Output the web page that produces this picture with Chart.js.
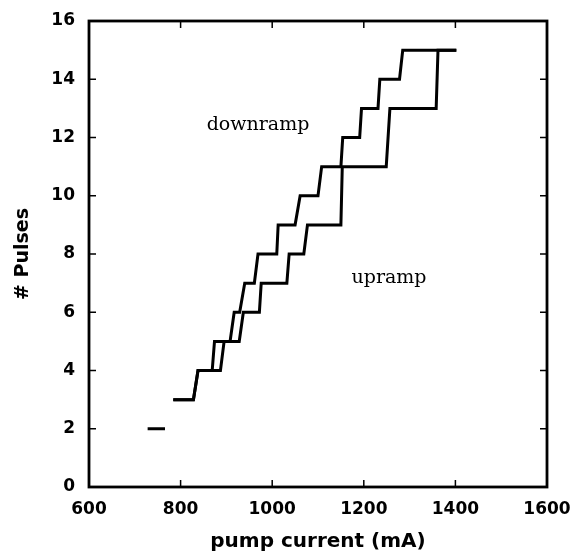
<!DOCTYPE html>
<html>
<head>
<meta charset="utf-8">
<script src="https://cdn.jsdelivr.net/npm/chart.js@4"></script>
<style>
  html, body { margin: 0; padding: 0; background: #ffffff; }
  #wrap { width: 583px; height: 558px; position: relative; }
</style>
</head>
<body>
<div id="wrap"><canvas id="c" width="583" height="558"></canvas></div>
<script>
// ---- data ----
const xTicks = [600, 800, 1000, 1200, 1400, 1600];
const yTicks = [0, 2, 4, 6, 8, 10, 12, 14, 16];

// downramp step curve (pump current mA, # pulses)
const downX = [784, 828, 838, 869, 874, 908, 917, 929, 940, 961, 969, 1010, 1013, 1050, 1061, 1100, 1108, 1150, 1154, 1191, 1195, 1231, 1235, 1278, 1285, 1402];
const downY = [3,   3,   4,   4,   5,   5,   6,   6,   7,   7,   8,   8,    9,    9,    10,   10,   11,   11,   12,   12,   13,   13,   14,   14,   15,   15];

// upramp step curve
const upX = [784, 828, 838, 887, 895, 928, 937, 972, 976, 1032, 1037, 1069, 1077, 1150, 1153, 1249, 1257, 1358, 1362, 1402];
const upY = [3,   3,   4,   4,   5,   5,   6,   6,   7,   7,    8,    8,    9,    9,    11,   11,   13,   13,   15,   15];

// isolated segment at 2 pulses
const lowX = [728, 766];
const lowY = [2, 2];

// curve labels
const labelText = ['downramp', 'upramp'];
const labelX = [969, 1255];
const labelY = [12.42, 7.18];

function pts(xs, ys) { return xs.map((x, i) => ({ x: x, y: ys[i] })); }

const framePlugin = {
  id: 'frame',
  afterDatasetsDraw(chart) {
    const ctx = chart.ctx;
    const a = chart.chartArea;
    const xs = chart.scales.x, ys = chart.scales.y;
    ctx.save();
    ctx.strokeStyle = '#000';
    // inward tick marks
    ctx.lineWidth = 1.5;
    const tl = 7;
    ctx.beginPath();
    xTicks.forEach(v => {
      if (v === xs.min || v === xs.max) return;
      const px = xs.getPixelForValue(v);
      ctx.moveTo(px, a.bottom); ctx.lineTo(px, a.bottom - tl);
      ctx.moveTo(px, a.top); ctx.lineTo(px, a.top + tl);
    });
    yTicks.forEach(v => {
      if (v === ys.min || v === ys.max) return;
      const py = ys.getPixelForValue(v);
      ctx.moveTo(a.left, py); ctx.lineTo(a.left + tl, py);
      ctx.moveTo(a.right, py); ctx.lineTo(a.right - tl, py);
    });
    ctx.stroke();
    // frame
    ctx.lineWidth = 2.8;
    ctx.strokeRect(a.left, a.top, a.right - a.left, a.bottom - a.top);
    // curve labels
    ctx.fillStyle = '#000';
    ctx.font = '19px "DejaVu Serif"';
    ctx.textAlign = 'center';
    ctx.textBaseline = 'middle';
    labelText.forEach((t, i) => {
      ctx.fillText(t, xs.getPixelForValue(labelX[i]), ys.getPixelForValue(labelY[i]));
    });
    ctx.restore();
  }
};

const lineStyle = {
  showLine: true,
  borderColor: '#000',
  borderWidth: 3,
  pointRadius: 0,
  pointHoverRadius: 0,
  fill: false,
  tension: 0,
  borderJoinStyle: 'miter',
  borderCapStyle: 'butt'
};

new Chart(document.getElementById('c'), {
  type: 'scatter',
  data: {
    datasets: [
      Object.assign({ label: 'downramp', data: pts(downX, downY) }, lineStyle),
      Object.assign({ label: 'upramp', data: pts(upX, upY) }, lineStyle),
      Object.assign({ label: 'low', data: pts(lowX, lowY) }, lineStyle)
    ]
  },
  options: {
    responsive: false,
    animation: false,
    devicePixelRatio: 1,
    layout: { padding: { left: 0, right: 36, top: 21, bottom: 0 } },
    plugins: { legend: { display: false }, tooltip: { enabled: false } },
    scales: {
      x: {
        type: 'linear',
        min: 600, max: 1600,
        afterBuildTicks(s) { s.ticks = xTicks.map(v => ({ value: v })); },
        afterFit(s) { s.height = 71; s.paddingLeft = 0; s.paddingRight = 0; },
        grid: { display: false, drawTicks: false },
        border: { display: false },
        ticks: {
          color: '#000',
          padding: 12,
          maxRotation: 0,
          callback: v => String(v),
          font: { family: '"DejaVu Sans"', weight: 'bold', size: 17 }
        },
        title: {
          display: true,
          text: 'pump current (mA)',
          color: '#000',
          font: { family: '"DejaVu Sans"', weight: 'bold', size: 20, lineHeight: 1 },
          padding: { top: 0, bottom: 6 }
        }
      },
      y: {
        type: 'linear',
        min: 0, max: 16,
        afterBuildTicks(s) { s.ticks = yTicks.map(v => ({ value: v })); },
        afterFit(s) { s.width = 89; s.paddingTop = 0; s.paddingBottom = 0; },
        grid: { display: false, drawTicks: false },
        border: { display: false },
        ticks: {
          color: '#000',
          padding: 14,
          callback: v => String(v),
          font: { family: '"DejaVu Sans"', weight: 'bold', size: 17 }
        },
        title: {
          display: true,
          text: '# Pulses',
          color: '#000',
          font: { family: '"DejaVu Sans"', weight: 'bold', size: 19, lineHeight: 1 },
          padding: { top: 14, bottom: 0 }
        }
      }
    }
  },
  plugins: [framePlugin]
});
</script>
</body>
</html>
